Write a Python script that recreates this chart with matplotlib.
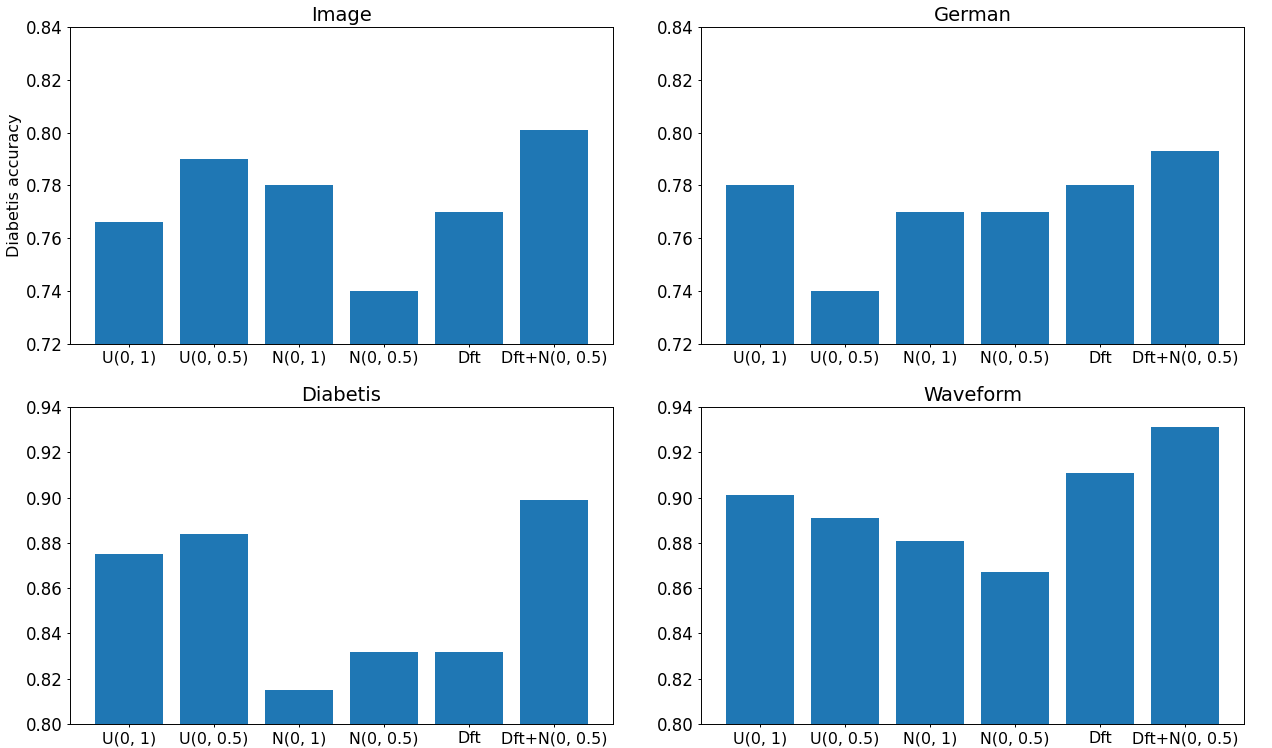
import numpy as np
import matplotlib.pyplot as plt

methods = ["U(0, 1)", "U(0, 0.5)", "N(0, 1)", "N(0, 0.5)", "Dft", "Dft+N(0, 0.5)"]

image_acc = [0.766, 0.790, 0.780, 0.740, 0.770, 0.801]
german_acc = [0.780, 0.740, 0.770, 0.770, 0.780, 0.793]
diabetis_acc = [0.875, 0.884, 0.815, 0.832, 0.832, 0.899]
waveform_acc = [0.901, 0.891, 0.881, 0.867, 0.911, 0.931]

panels = [
    ("Image", image_acc, (0.72, 0.84)),
    ("German", german_acc, (0.72, 0.84)),
    ("Diabetis", diabetis_acc, (0.80, 0.94)),
    ("Waveform", waveform_acc, (0.80, 0.94)),
]

fig, axes = plt.subplots(2, 2, figsize=(12.72, 7.48), dpi=100)
fig.subplots_adjust(left=0.055, right=0.978, top=0.964, bottom=0.032,
                    wspace=0.162, hspace=0.199)

x = np.arange(len(methods))
for ax, (name, vals, ylim) in zip(axes.flat, panels):
    ax.bar(x, vals, color='#1f77b4', width=0.8)
    ax.set_title(name, fontsize=14, pad=4)
    ax.set_ylim(*ylim)
    ax.set_yticks(np.arange(ylim[0], ylim[1] + 0.001, 0.02))
    ax.yaxis.set_major_formatter(plt.FormatStrFormatter('%.2f'))
    ax.set_xticks(x)
    ax.set_xticklabels(methods)
    ax.tick_params(length=2.5, pad=2.5, width=0.7)
    ax.tick_params(axis='x', labelsize=11.4)
    ax.tick_params(axis='y', labelsize=12)
    for sp in ax.spines.values():
        sp.set_linewidth(0.7)

axes[0][0].set_ylabel("Diabetis accuracy", fontsize=11.5, labelpad=3)

plt.savefig("out.png", dpi=100)
